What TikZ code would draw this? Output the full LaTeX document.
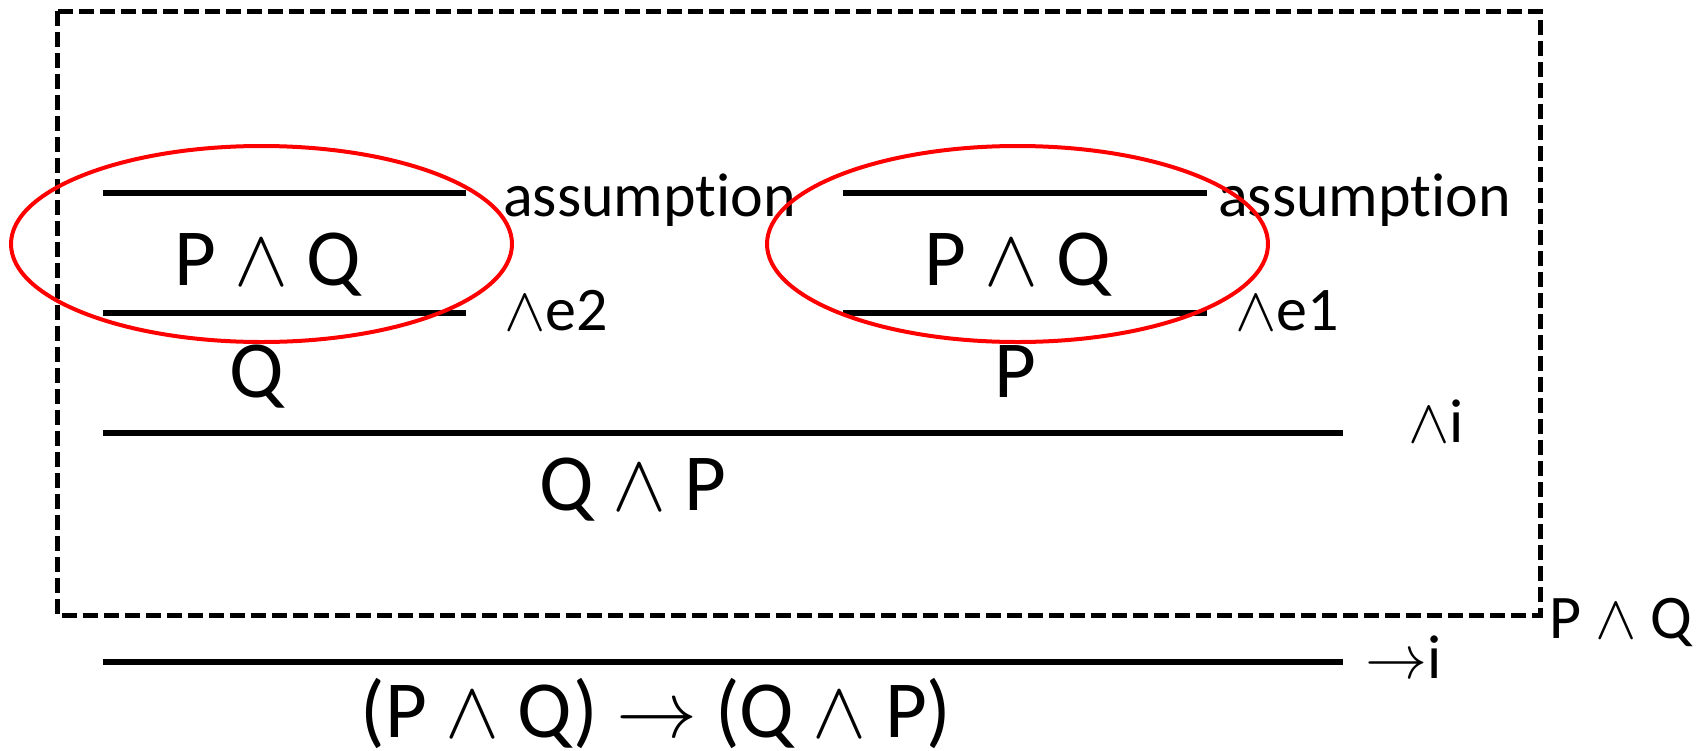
\RequirePackage{fix-cm}
\documentclass[tikz,border=0pt]{standalone}
\usepackage{fontspec}
\setmainfont{Carlito}[Ligatures={NoCommon}]
\tikzset{
  bar/.style={line width=5.5pt},
  big/.style={inner sep=0pt, font=\fontsize{81}{90}\selectfont},
  lab/.style={inner sep=0pt, font=\fontsize{62}{70}\selectfont},
  box/.style={line width=5pt, dash pattern=on 15pt off 6pt},
  ring/.style={draw=red, line width=4pt}
}
\begin{document}
\begin{tikzpicture}[x=1pt,y=-1pt]
\useasboundingbox (0,0) rectangle (1699,750);
% inference bars
\coordinate (l1a) at (103,193); \coordinate (l1b) at (466,193);
\coordinate (l2a) at (103,313); \coordinate (l2b) at (466,313);
\coordinate (r1a) at (843,193); \coordinate (r1b) at (1207,193);
\coordinate (r2a) at (843,313); \coordinate (r2b) at (1207,313);
\coordinate (m1a) at (103,433); \coordinate (m1b) at (1343,433);
\coordinate (b1a) at (103,662); \coordinate (b1b) at (1343,662);
\coordinate (boxnw) at (57,11); \coordinate (boxse) at (1540,615);
\draw[box] (boxnw) rectangle (boxse);
\draw[bar] (l1a) -- (l1b);
\draw[bar] (l2a) -- (l2b);
\draw[bar] (r1a) -- (r1b);
\draw[bar] (r2a) -- (r2b);
\draw[bar] (m1a) -- (m1b);
\draw[bar] (b1a) -- (b1b);
% texts
\node[big, anchor=base] (lpq) at (268,285) {P $\wedge$ Q};
\node[lab, anchor=base west] (las) at (503,216) {assumption};
\node[lab, anchor=base west] (le2) at (504,330) {$\wedge$e2};
\node[big, anchor=base] (q) at (257,397) {Q};
\node[big, anchor=base] (rpq) at (1018,285) {P $\wedge$ Q};
\node[lab, anchor=base west] (ras) at (1218,216) {assumption};
\node[lab, anchor=base west] (re1) at (1235,330) {$\wedge$e1};
\node[big, anchor=base] (p) at (1015,397) {P};
\node[lab, anchor=base west] (ai) at (1408,442) {$\wedge$i};
\node[big, anchor=base] (qp) at (633,510) {Q $\wedge$ P};
\node[lab, anchor=base west] (pq2) at (1549,638) {P $\wedge$ Q};
\node[lab, anchor=base west] (toi) at (1365,678) {$\to$i};
\node[big, anchor=base] (concl) at (656,737) {(P $\wedge$ Q) $\to$ (Q $\wedge$ P)};
% red rings
\draw[ring] (261.5,244) ellipse [x radius=250.5, y radius=98];
\draw[ring] (1017.5,244) ellipse [x radius=250.5, y radius=98];
\end{tikzpicture}
\end{document}
